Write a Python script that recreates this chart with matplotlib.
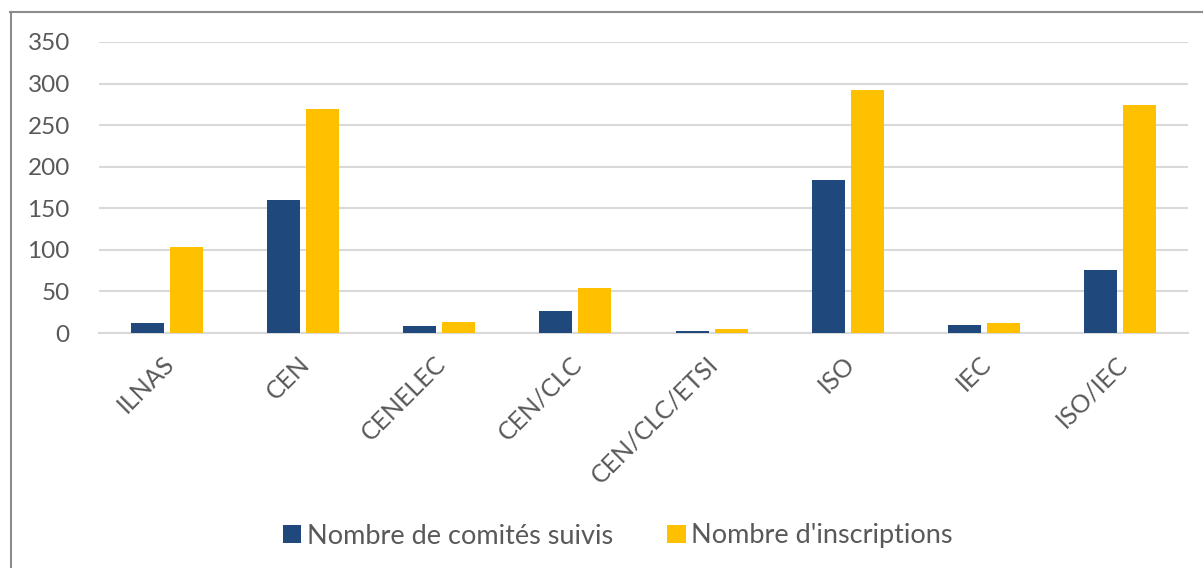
import numpy as np
import matplotlib.pyplot as plt
import matplotlib.transforms as mtrans
from matplotlib.lines import Line2D

# data
categories = ["ILNAS", "CEN", "CENELEC", "CEN/CLC", "CEN/CLC/ETSI", "ISO", "IEC", "ISO/IEC"]
comites = [12, 160, 8, 26, 3, 184, 10, 76]
inscriptions = [103, 270, 13, 54, 5, 292, 12, 274]
yticks = [0, 50, 100, 150, 200, 250, 300, 350]

blue = "#1F497D"
gold = "#FFC000"
grey_txt = "#595959"

plt.rcParams['font.family'] = ['Lato', 'DejaVu Sans']

fig = plt.figure(figsize=(12.03, 5.68), dpi=100)
ax = fig.add_axes([99 / 1203, 1 - 333 / 568, (1188 - 99) / 1203, (333 - 42) / 568])

x = np.arange(len(categories))
w = 0.2425
off = 0.143
ax.bar(x - off, comites, w, color=blue, label="Nombre de comités suivis", zorder=3)
ax.bar(x + off, inscriptions, w, color=gold, label="Nombre d'inscriptions", zorder=3)

ax.set_xlim(-0.5, len(categories) - 0.5)
ax.set_ylim(0, 350)
ax.set_yticks(yticks)
ax.set_yticklabels([str(t) for t in yticks])
ax.yaxis.grid(True, color="#D9D9D9", linewidth=1.5, zorder=0)
ax.set_axisbelow(True)
for s in ["top", "right", "left"]:
    ax.spines[s].set_visible(False)
ax.spines["bottom"].set_color("#D9D9D9")
ax.spines["bottom"].set_linewidth(1.5)

ax.tick_params(axis="y", length=0, pad=21, labelsize=17.5, labelcolor=grey_txt)
ax.tick_params(axis="x", length=0, pad=8, labelsize=18, labelcolor=grey_txt)
ax.set_xticks(x)
ax.set_xticklabels(categories, rotation=45, ha="right", va="center", rotation_mode="anchor")

# move the rotated labels so their end sits just right of the tick
shift = mtrans.ScaledTranslation(3 / 100, -16 / 100, fig.dpi_scale_trans)
for lab in ax.get_xticklabels():
    lab.set_transform(lab.get_transform() + shift)

# frame of the chart (cropped on the right and bottom)
fig.add_artist(Line2D([10.5 / 1203, 10.5 / 1203], [0, 1 - 12 / 568], transform=fig.transFigure,
                      color="#8C8C8C", linewidth=1.5))
fig.add_artist(Line2D([10 / 1203, 1], [1 - 12 / 568, 1 - 12 / 568], transform=fig.transFigure,
                      color="#8C8C8C", linewidth=1.5))

leg = fig.legend(loc="center", bbox_to_anchor=(618 / 1203, 1 - 536 / 568), ncol=2, frameon=False,
                 fontsize=19.5, handlelength=0.67, handleheight=0.67, handletextpad=0.22,
                 columnspacing=2.0, labelcolor=grey_txt)

fig.savefig("out.png", dpi=100)
